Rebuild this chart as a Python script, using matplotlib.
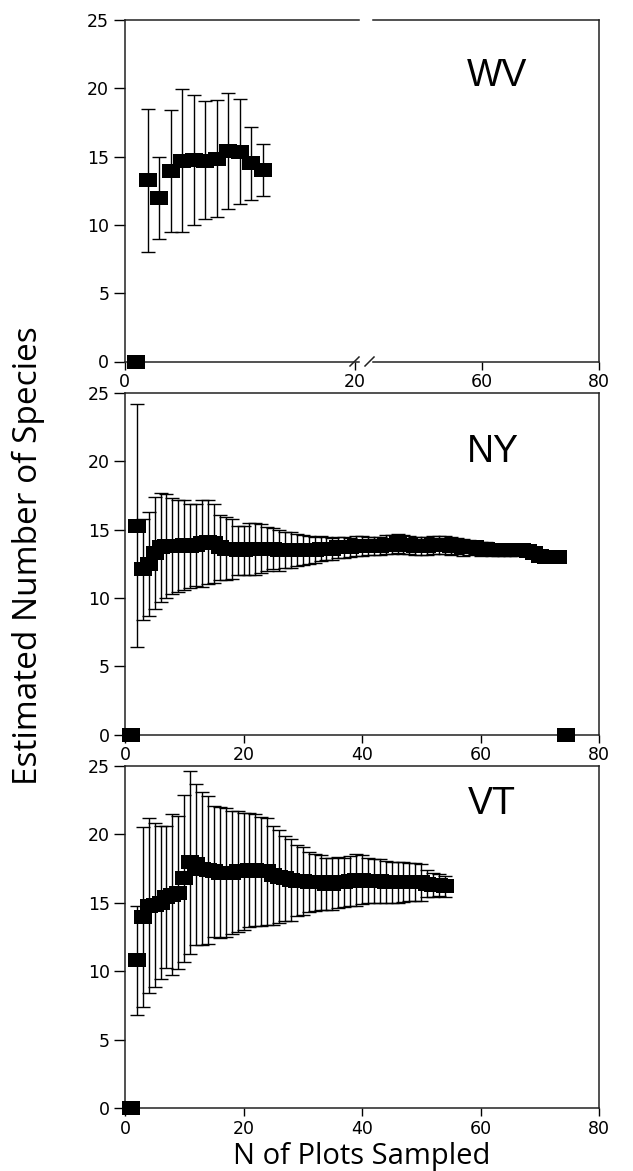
import numpy as np
import matplotlib
matplotlib.use("Agg")
import matplotlib.pyplot as plt
from matplotlib.lines import Line2D

W, H = 633, 1171

# ---------------- data ----------------
# West Virginia
wv_n = [2, 3, 4, 5, 6, 7, 8, 9, 10, 11, 12]
wv_mean = [13.3, 12.0, 13.95, 14.7, 14.75, 14.7, 14.85, 15.4, 15.35, 14.5, 14.05]
wv_upper = [18.5, 15.0, 18.4, 19.95, 19.5, 19.05, 19.15, 19.65, 19.2, 17.2, 15.95]
wv_lower = [8.0, 9.0, 9.5, 9.45, 10.0, 10.4, 10.6, 11.15, 11.5, 11.8, 12.15]
wv_zero_n = [1]
wv_zero_val = [0]

# New York
ny_n = list(range(2, 74))
ny_mean = [15.3, 12.1, 12.5, 13.3, 13.7, 13.8, 13.8, 13.8, 13.9, 13.8,
           13.9, 14.0, 14.1, 14.0, 13.7, 13.6, 13.6, 13.5, 13.5, 13.6,
           13.6, 13.6, 13.6, 13.6, 13.5, 13.5, 13.5, 13.5, 13.5, 13.5,
           13.5, 13.6, 13.6, 13.6, 13.7, 13.7, 13.7, 13.8, 13.8, 13.8,
           13.8, 13.8, 13.9, 13.9, 14.0, 13.9, 13.9, 13.8, 13.8, 13.8,
           13.9, 13.9, 13.9, 13.8, 13.8, 13.7, 13.7, 13.7, 13.6, 13.6,
           13.5, 13.5, 13.5, 13.5, 13.5, 13.5, 13.4, 13.3, 13.1, 13.0,
           13.0, 13.0]
ny_err = [8.9, 3.7, 3.8, 4.1, 4.0, 3.8, 3.5, 3.4, 3.3, 3.1,
          3.0, 3.2, 3.1, 2.9, 2.4, 2.3, 2.2, 1.8, 1.8, 1.9,
          1.9, 1.8, 1.6, 1.5, 1.5, 1.3, 1.3, 1.2, 1.1, 1.0,
          0.95, 0.9, 0.85, 0.8, 0.78, 0.75, 0.72, 0.7, 0.7, 0.68,
          0.68, 0.68, 0.7, 0.72, 0.7, 0.68, 0.66, 0.65, 0.65, 0.65,
          0.65, 0.65, 0.65, 0.65, 0.62, 0.6, 0.55, 0.5, 0.5, 0.48,
          0.45, 0.45, 0.42, 0.4, 0.4, 0.38, 0.35, 0.3, 0.3, 0.25,
          0.2, 0.15]
ny_zero_n = [1, 74.5]
ny_zero_val = [0, 0]

# Vermont
vt_n = list(range(2, 55))
vt_mean = [10.8, 13.95, 14.8, 14.85, 15.0, 15.4, 15.6, 15.75, 16.8, 17.95,
           17.8, 17.5, 17.4, 17.3, 17.2, 17.2, 17.2, 17.3, 17.3, 17.4,
           17.4, 17.3, 17.3, 17.0, 16.9, 16.8, 16.7, 16.6, 16.6, 16.5,
           16.5, 16.5, 16.4, 16.4, 16.5, 16.5, 16.6, 16.7, 16.7, 16.6,
           16.6, 16.6, 16.5, 16.5, 16.5, 16.5, 16.5, 16.5, 16.5, 16.4,
           16.3, 16.3, 16.2]
vt_err = [4.0, 6.6, 6.4, 6.0, 5.6, 5.2, 5.9, 5.6, 6.1, 6.7,
          5.9, 5.6, 5.4, 4.8, 4.8, 4.7, 4.5, 4.4, 4.3, 4.2,
          4.1, 4.0, 3.9, 3.6, 3.4, 3.1, 3.0, 2.6, 2.5, 2.2,
          2.1, 2.0, 1.9, 1.9, 1.85, 1.8, 1.8, 1.9, 1.8, 1.65,
          1.6, 1.6, 1.55, 1.5, 1.5, 1.45, 1.4, 1.4, 1.35, 1.0,
          0.9, 0.8, 0.75]
vt_zero_n = [1]
vt_zero_val = [0]

y_ticks = [0, 5, 10, 15, 20, 25]
x_ticks = [0, 20, 40, 60, 80]
wv_left_ticks = [0, 20]
wv_right_ticks = [60, 80]
panel_names = ["WV", "NY", "VT"]

# ---------------- style ----------------
TICK_FONT = "DejaVu Sans"
LABEL_FONT = "Open Sans"
PANEL_FONT = "Liberation Sans"
INK = "black"
SPINE = "#222222"
RECT = [(-1, -0.72), (1, -0.72), (1, 0.72), (-1, 0.72), (-1, -0.72)]
MS = 13.5

fig = plt.figure(figsize=(W / 100, H / 100), dpi=100)


def fx(px):
    return px / W


def fy(py):
    return 1 - py / H


def make_ax(x0, x1, y0, y1):
    return fig.add_axes([fx(x0), fy(y1), fx(x1) - fx(x0), fy(y0) - fy(y1)])


def style(ax, left=True):
    for s in ax.spines.values():
        s.set_color(SPINE)
        s.set_linewidth(1.1)
    ax.set_ylim(0, 25)
    ax.set_yticks(y_ticks)
    ax.tick_params(axis="y", direction="out", length=8, width=1.0, pad=3,
                   labelsize=12.5, colors=INK, left=left, labelleft=left)
    ax.tick_params(axis="x", direction="out", length=6, width=1.0, pad=2.5,
                   labelsize=12.5, colors=INK)
    for lab in ax.get_xticklabels() + ax.get_yticklabels():
        lab.set_family(TICK_FONT)
    ax.set_facecolor("white")


def draw_series(ax, n, mean, lo, hi):
    ax.errorbar(n, mean, yerr=[lo, hi], fmt="none", ecolor=INK,
                elinewidth=1.0, capsize=5.2, capthick=1.0, clip_on=False, zorder=2)
    ax.plot(n, mean, ls="none", marker=RECT, ms=MS, mew=0, color=INK,
            clip_on=False, zorder=3)


def draw_zero(ax, n, v):
    ax.plot(n, v, ls="none", marker=RECT, ms=MS, mew=0, color=INK,
            clip_on=False, zorder=4)


# ---------------- top panel (broken x axis) ----------------
axL = make_ax(124.5, 359, 20, 361.5)
axR = make_ax(373, 599, 20, 361.5)
axL.set_xlim(0, (359 - 124.5) / 11.5)
axR.set_xlim(80 - (599 - 373) / 5.85, 80)
axL.set_xticks(wv_left_ticks)
axR.set_xticks(wv_right_ticks)
style(axL, left=True)
style(axR, left=False)
axL.spines["right"].set_visible(False)
axR.spines["left"].set_visible(False)

wv_lo = [m - l for m, l in zip(wv_mean, wv_lower)]
wv_hi = [u - m for m, u in zip(wv_mean, wv_upper)]
draw_series(axL, wv_n, wv_mean, wv_lo, wv_hi)
draw_zero(axL, wv_zero_n, wv_zero_val)

# break marks on the bottom axis
for (xa, xb) in [(350, 359), (365, 374)]:
    fig.add_artist(Line2D([fx(xa), fx(xb)], [fy(366), fy(357)],
                          transform=fig.transFigure, color=SPINE, lw=1.1))

# ---------------- middle panel ----------------
axM = make_ax(125, 599, 393, 734.5)
axM.set_xlim(0, 80)
axM.set_xticks(x_ticks)
style(axM)
draw_series(axM, ny_n, ny_mean, ny_err, ny_err)
draw_zero(axM, ny_zero_n, ny_zero_val)

# ---------------- bottom panel ----------------
axB = make_ax(125, 599, 766, 1108)
axB.set_xlim(0, 80)
axB.set_xticks(x_ticks)
style(axB)
draw_series(axB, vt_n, vt_mean, vt_err, vt_err)
draw_zero(axB, vt_zero_n, vt_zero_val)

# ---------------- text ----------------
for name, (px, py) in zip(panel_names, [(497, 76), (493, 452), (492, 804)]):
    fig.text(fx(px), fy(py), name, family=PANEL_FONT, fontsize=27,
             ha="center", va="center", color=INK)

fig.text(fx(362), fy(1164), "N of Plots Sampled", family=LABEL_FONT,
         fontsize=21, ha="center", va="baseline", color=INK)
fig.text(fx(28), fy(556), "Estimated Number of Species", family=LABEL_FONT,
         fontsize=24, rotation=90, ha="center", va="center", color=INK)

fig.savefig("out.png", dpi=100, facecolor="white")
